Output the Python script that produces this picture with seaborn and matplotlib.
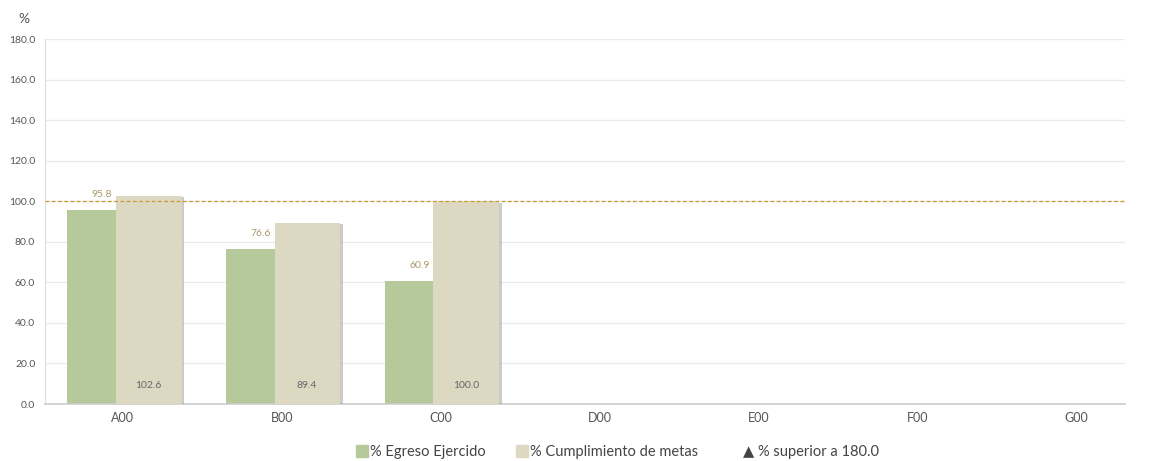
import matplotlib
matplotlib.use("Agg")
import matplotlib.pyplot as plt
import matplotlib.patheffects as pe
from matplotlib.lines import Line2D
import seaborn as sns
import pandas as pd

# datos
categorias = ["A00", "B00", "C00", "D00", "E00", "F00", "G00"]
egreso = [95.8, 76.6, 60.9, 0, 0, 0, 0]
metas = [102.6, 89.4, 100.0, 0, 0, 0, 0]
n_con_datos = 3
meta_ref = 100.0
y_ticks = [0, 20, 40, 60, 80, 100, 120, 140, 160, 180]
serie_egreso = "% Egreso Ejercido"
serie_metas = "% Cumplimiento de metas"
etiqueta_superior = "▲ % superior a 180.0"

verde = "#b5c99a"
beige = "#ddd8c2"

sns.set_style("white")
plt.rcParams["font.family"] = ["Lato", "DejaVu Sans"]

df = pd.DataFrame({
    "categoria": categorias * 2,
    "valor": egreso + metas,
    "serie": [serie_egreso] * len(categorias) + [serie_metas] * len(categorias),
})

fig = plt.figure(figsize=(11.53, 4.61), dpi=100)
ax = fig.add_axes([0.039, 0.1236, 0.937, 0.7916])

sns.barplot(data=df, x="categoria", y="valor", hue="serie",
            palette=[verde, beige], width=0.72, dodge=True,
            legend=False, ax=ax, saturation=1)

# ajustar barras: beige algo más ancha y encima, con sombra
cont_egreso, cont_metas = ax.containers[0], ax.containers[1]
for i, p in enumerate(cont_egreso.patches):
    p.set_x(i - 0.35)
    p.set_width(0.37)
    p.set_zorder(2)
    p.set_linewidth(0)
for i, p in enumerate(cont_metas.patches):
    p.set_x(i - 0.045)
    p.set_width(0.415)
    p.set_zorder(3)
    p.set_linewidth(0)
    p.set_path_effects([pe.SimplePatchShadow(offset=(2, -1), shadow_rgbFace="#999999", alpha=0.5),
                        pe.Normal()])

# etiquetas de valores
for i in range(n_con_datos):
    ax.text(i - 0.07, egreso[i] + 7.5, f"{egreso[i]:.1f}", ha="right", va="center",
            fontsize=7.5, color="#a89a6a", zorder=5)
    ax.text(i + 0.16, 9, f"{metas[i]:.1f}", ha="center", va="center",
            fontsize=7.5, color="#666666", zorder=5)

ax.axhline(meta_ref, color="#c99a2e", linestyle=(0, (3, 2)), linewidth=0.9, zorder=4)

ax.set_ylim(0, 180)
ax.set_xlim(-0.49, 6.31)
ax.set_yticks(y_ticks)
ax.set_yticklabels([f"{v:.1f}" for v in y_ticks], fontsize=7.5, color="#555555")
ax.tick_params(axis="x", labelsize=9, colors="#555555", length=0, pad=6)
ax.tick_params(axis="y", length=4, color="#dddddd", pad=3)
ax.set_xlabel("")
ax.set_ylabel("")
ax.yaxis.grid(True, color="#ebebeb", linewidth=1)
ax.set_axisbelow(True)
for s in ["top", "right"]:
    ax.spines[s].set_visible(False)
ax.spines["left"].set_color("#dddddd")
ax.spines["bottom"].set_color("#cccccc")
ax.spines["bottom"].set_linewidth(1.2)

fig.text(0.016, 0.945, "%", fontsize=10, color="#555555", ha="left", va="bottom")

handles = [
    Line2D([], [], marker="s", linestyle="", markersize=9, color=verde),
    Line2D([], [], marker="s", linestyle="", markersize=9, color=beige),
    Line2D([], [], marker="", linestyle=""),
]
leg = fig.legend(handles, [serie_egreso, serie_metas, etiqueta_superior],
                 loc="center", bbox_to_anchor=(0.535, 0.02), ncol=3, frameon=False,
                 fontsize=10.5, handletextpad=0.05, columnspacing=2.0, handlelength=1,
                 labelcolor="#444444")
leg.legend_handles[2].set_visible(False)

fig.savefig("out.png", dpi=100)
